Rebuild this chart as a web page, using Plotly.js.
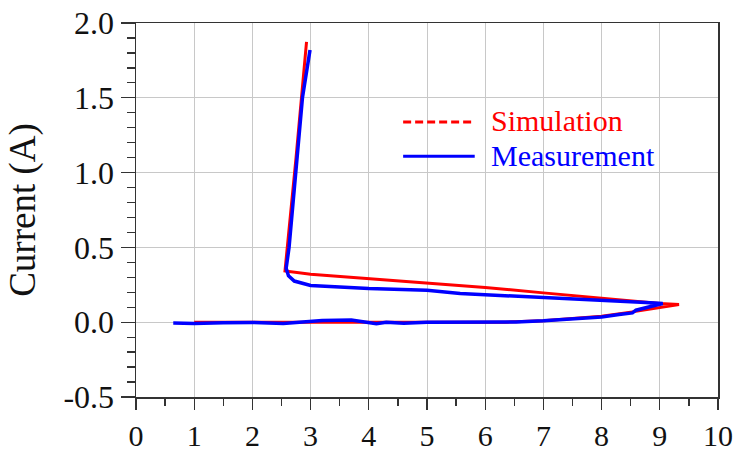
<!DOCTYPE html>
<html>
<head>
<meta charset="utf-8">
<script src="https://cdn.plot.ly/plotly-3.0.1.min.js"></script>
<style>html,body{margin:0;padding:0;background:#fff;}#chart{width:743px;height:452px;}</style>
</head>
<body>
<div id="chart"></div>
<script>
// Simulation (red) voltage / current
const simX = [1.0, 2.0, 3.0, 4.0, 5.0, 6.0, 6.35, 7.0, 7.5, 8.0, 8.53, 9.0, 9.33, 9.0, 8.0, 7.0, 6.0, 5.0, 4.0, 3.0, 2.56, 2.75, 2.93];
const simY = [0.0, 0.0, 0.0, 0.0, 0.0, 0.0, 0.0, 0.009, 0.022, 0.04, 0.069, 0.098, 0.118, 0.125, 0.158, 0.196, 0.232, 0.263, 0.292, 0.32, 0.343, 1.1, 1.874];
// Measurement (blue)
const measX = [0.64, 1.0, 1.5, 2.0, 2.53, 2.9, 3.2, 3.7, 3.9, 4.13, 4.3, 4.6, 5.0, 5.57, 6.0, 6.53, 7.0, 7.55, 8.0, 8.3, 8.53, 8.59, 8.82, 9.0, 9.05, 8.76, 8.0, 7.0, 5.57, 5.0, 4.0, 3.0, 2.97, 2.72, 2.62, 2.58, 2.63, 2.745, 2.86, 2.99];
const measY = [-0.005, -0.008, -0.003, -0.002, -0.008, 0.0, 0.012, 0.015, 0.005, -0.01, 0.0, -0.007, 0.0, 0.0, 0.0, 0.002, 0.009, 0.025, 0.035, 0.051, 0.062, 0.08, 0.103, 0.118, 0.125, 0.132, 0.147, 0.169, 0.192, 0.214, 0.225, 0.245, 0.248, 0.275, 0.31, 0.36, 0.5, 1.0, 1.5, 1.82];

const xTickVals = [0,1,2,3,4,5,6,7,8,9,10];
const xTickText = ['0','1','2','3','4','5','6','7','8','9','10'];
const yTickVals = [-0.5, 0, 0.5, 1.0, 1.5, 2.0];
const yTickText = ['-0.5','0.0','0.5','1.0','1.5','2.0'];
const seriesNames = ['Simulation', 'Measurement'];
const yTitle = 'Current (A)';

const FONT = "Liberation Serif, Times New Roman, serif";
const RED = '#ff0000', BLUE = '#0000ff';

const traces = [
  {x: simX, y: simY, type: 'scatter', mode: 'lines', name: seriesNames[0],
   line: {color: RED, width: 3}},
  {x: measX, y: measY, type: 'scatter', mode: 'lines', name: seriesNames[1],
   line: {color: BLUE, width: 3.5}}
];

const layout = {
  width: 743, height: 452,
  margin: {l: 136, r: 25, t: 23, b: 55},
  paper_bgcolor: '#fff', plot_bgcolor: '#fff',
  showlegend: false,
  font: {family: FONT, color: '#000'},
  xaxis: {
    range: [0, 10], tickvals: xTickVals, ticktext: xTickText,
    ticks: 'outside', ticklen: 11, tickwidth: 1.3, tickcolor: '#333',
    tickfont: {family: FONT, size: 30, color: '#111'},
    showline: true, linecolor: '#333', linewidth: 1.5, mirror: true,
    showgrid: true, gridcolor: '#c8c8c8', gridwidth: 1,
    zeroline: false,
    minor: {dtick: 0.5, tick0: 0, ticks: 'outside', ticklen: 7, tickcolor: '#333', tickwidth: 1.3, showgrid: false}
  },
  yaxis: {
    range: [-0.5, 2.0], tickvals: yTickVals, ticktext: yTickText,
    ticks: 'outside', ticklen: 14, tickwidth: 1.3, tickcolor: '#333',
    tickfont: {family: FONT, size: 32, color: '#111'},
    showline: true, linecolor: '#333', linewidth: 1.5, mirror: true,
    showgrid: true, gridcolor: '#c8c8c8', gridwidth: 1,
    zeroline: false,
    minor: {dtick: 0.1, tick0: 0, ticks: 'outside', ticklen: 8, tickcolor: '#333', tickwidth: 1.3, showgrid: false},
    title: {text: yTitle, font: {family: FONT, size: 37, color: '#111'}, standoff: 16}
  },
  shapes: [
    {type: 'line', xref: 'paper', yref: 'paper', x0: 0.459, x1: 0.577, y0: 0.735, y1: 0.735,
     line: {color: RED, width: 3, dash: '8px,4px'}},
    {type: 'line', xref: 'paper', yref: 'paper', x0: 0.459, x1: 0.582, y0: 0.644, y1: 0.644,
     line: {color: BLUE, width: 3}}
  ],
  annotations: [
    {xref: 'paper', yref: 'paper', x: 0.606, y: 0.738, xanchor: 'left', yanchor: 'middle',
     text: seriesNames[0], showarrow: false, font: {family: FONT, size: 30, color: RED}},
    {xref: 'paper', yref: 'paper', x: 0.606, y: 0.647, xanchor: 'left', yanchor: 'middle',
     text: seriesNames[1], showarrow: false, font: {family: FONT, size: 30, color: BLUE}}
  ]
};

Plotly.newPlot('chart', traces, layout, {displayModeBar: false, staticPlot: true});
</script>
</body>
</html>
